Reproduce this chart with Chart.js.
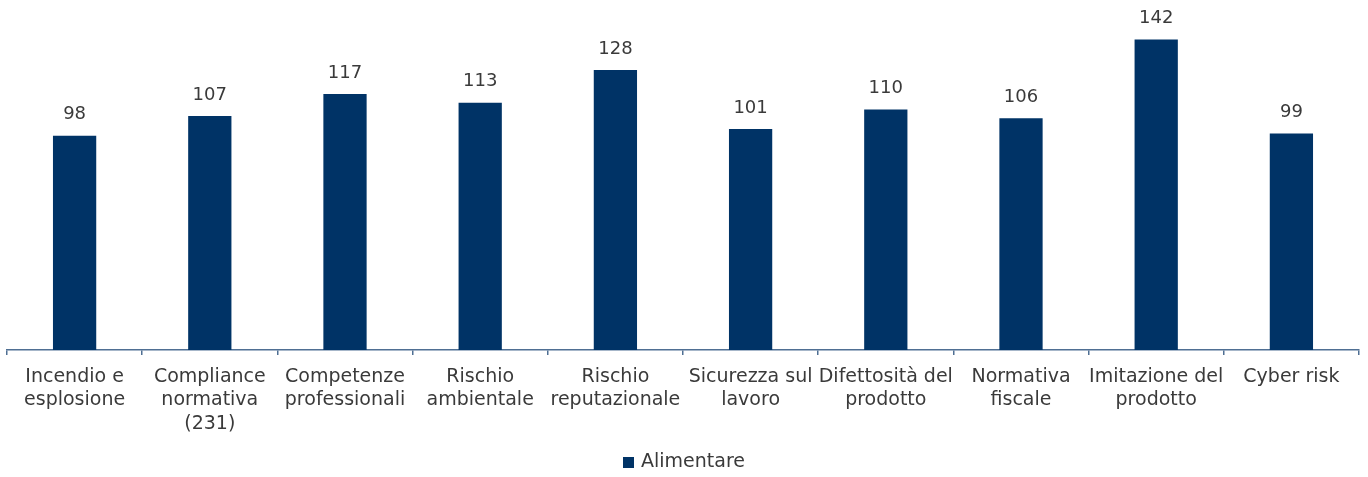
<!DOCTYPE html>
<html>
<head>
<meta charset="utf-8">
<script src="https://cdn.jsdelivr.net/npm/chart.js@4"></script>
<style>
  html, body { margin: 0; padding: 0; background: #fff; }
  #wrap { width: 1368px; height: 477px; }
</style>
</head>
<body>
<div id="wrap"><canvas id="rischiChart" width="1368" height="477"></canvas></div>
<script>
// Categorie di rischio e punteggi del settore alimentare
const categories = [
  ['Incendio e', 'esplosione'],
  ['Compliance', 'normativa', '(231)'],
  ['Competenze', 'professionali'],
  ['Rischio', 'ambientale'],
  ['Rischio', 'reputazionale'],
  ['Sicurezza sul', 'lavoro'],
  ['Difettosità del', 'prodotto'],
  ['Normativa', 'fiscale'],
  ['Imitazione del', 'prodotto'],
  ['Cyber risk']
];
const alimentare = [98, 107, 117, 113, 128, 101, 110, 106, 142, 99];

const FONT = '"DejaVu Sans", sans-serif';
const TEXT = '#3a3a3a';
const BAR = '#003366';
const AXIS = '#4f6f93';

// Valori sopra le barre
const valueLabels = {
  id: 'valueLabels',
  afterDatasetsDraw(chart) {
    const ctx = chart.ctx;
    ctx.save();
    ctx.font = '18px ' + FONT;
    ctx.fillStyle = TEXT;
    ctx.textAlign = 'center';
    ctx.textBaseline = 'middle';
    chart.getDatasetMeta(0).data.forEach((bar, i) => {
      ctx.fillText(String(alimentare[i]), bar.x, bar.y - 21);
    });
    ctx.restore();
  }
};

// Legenda centrata in fondo, nello spazio lasciato dal padding
const bottomLegend = {
  id: 'bottomLegend',
  afterDraw(chart) {
    const ctx = chart.ctx;
    const ds = chart.data.datasets[0];
    ctx.save();
    ctx.font = '19px ' + FONT;
    const textW = ctx.measureText(ds.label).width;
    const box = 11, gap = 7;
    const x0 = Math.round(chart.width / 2 - (box + gap + textW) / 2);
    const y = chart.height - 15;
    ctx.fillStyle = ds.backgroundColor;
    ctx.fillRect(x0, Math.round(y - box / 2), box, box);
    ctx.fillStyle = TEXT;
    ctx.textBaseline = 'middle';
    ctx.fillText(ds.label, x0 + box + gap, y);
    ctx.restore();
  }
};

new Chart(document.getElementById('rischiChart'), {
  type: 'bar',
  data: {
    labels: categories,
    datasets: [{
      label: 'Alimentare',
      data: alimentare,
      backgroundColor: BAR,
      categoryPercentage: 1,
      barPercentage: 0.32
    }]
  },
  options: {
    responsive: false,
    animation: false,
    layout: { padding: { left: 7, right: 9, top: 0, bottom: 30 } },
    plugins: {
      tooltip: { enabled: false },
      legend: { display: false }
    },
    scales: {
      y: {
        display: false,
        min: 0,
        max: 160
      },
      x: {
        afterFit(scale) { scale.height = 97; },
        border: { display: true, color: AXIS, width: 1.5 },
        grid: {
          offset: true,
          drawOnChartArea: false,
          drawTicks: true,
          tickLength: 5,
          color: AXIS,
          lineWidth: 1.5
        },
        ticks: {
          color: TEXT,
          padding: 10,
          maxRotation: 0,
          autoSkip: false,
          font: { family: FONT, size: 19, lineHeight: 1.24 }
        }
      }
    }
  },
  plugins: [valueLabels, bottomLegend]
});
</script>
</body>
</html>
